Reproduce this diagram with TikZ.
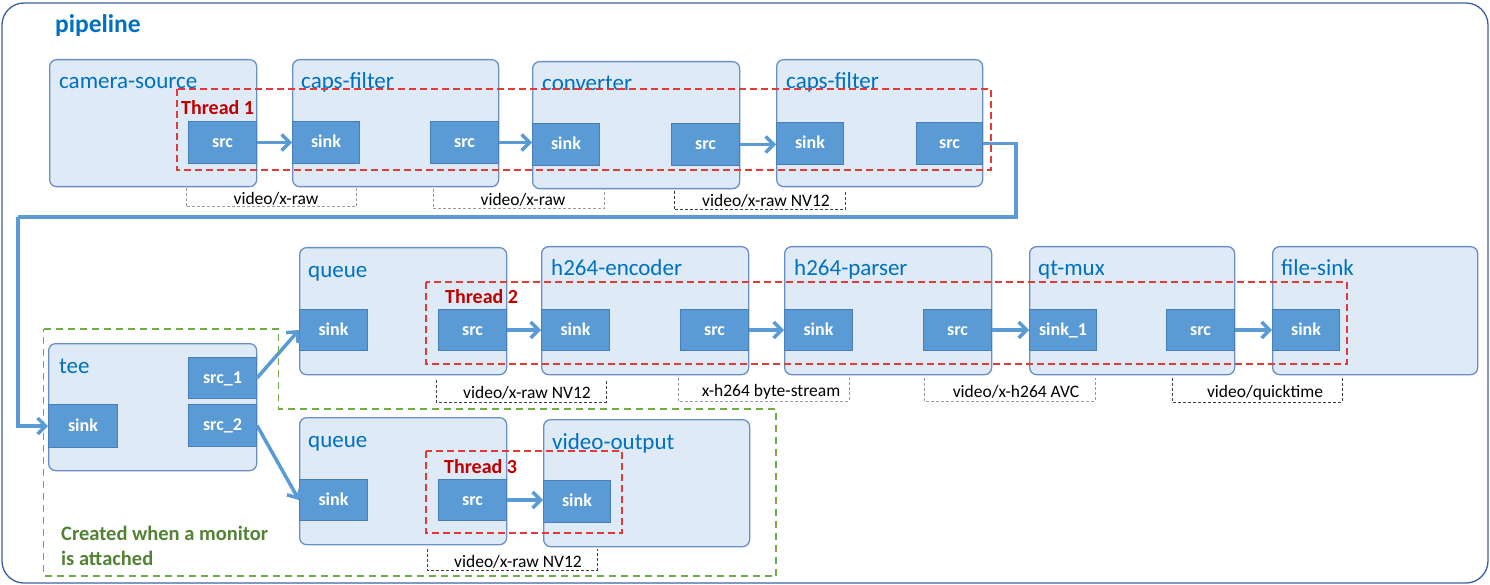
\documentclass[tikz,border=0pt]{standalone}
\usepackage{fontspec}
\setmainfont{Carlito}
\usetikzlibrary{arrows.meta}
\definecolor{elemfill}{HTML}{DEEBF7}
\definecolor{elemdraw}{HTML}{6A8FC7}
\definecolor{padfill}{HTML}{5B9BD5}
\definecolor{paddraw}{HTML}{4A7EBB}
\definecolor{flowcol}{HTML}{5B9BD5}
\definecolor{titlecol}{HTML}{0070C0}
\definecolor{framecol}{HTML}{3A5FA0}
\definecolor{threadcol}{HTML}{E03A3A}
\definecolor{threadtxt}{HTML}{C00000}
\definecolor{greencol}{HTML}{70AD47}
\definecolor{greentxt}{HTML}{548235}
\definecolor{capsgraycol}{HTML}{9A9A9A}
\definecolor{capsdarkcol}{HTML}{404040}
\tikzset{
  elem/.style={draw=elemdraw, fill=elemfill, line width=1.3pt, rounded corners=7pt, anchor=north west, inner sep=0pt},
  pad/.style={draw=paddraw, fill=padfill, line width=1pt, anchor=north west, inner sep=0pt, text height=12pt, text depth=2pt, text=white, font=\fontsize{18}{20}\selectfont\bfseries},
  etitle/.style={anchor=base west, inner sep=0pt, text=titlecol, font=\fontsize{23}{26}\selectfont},
  flow/.style={draw=flowcol, line width=3.5pt, -{Straight Barb[length=8pt,width=16pt]}},
  loopline/.style={draw=flowcol, line width=3.5pt},
  threadbox/.style={draw=threadcol, line width=1.4pt, dash pattern=on 7pt off 4pt},
  threadlbl/.style={anchor=west, inner sep=0pt, text=threadtxt, font=\fontsize{20}{22}\selectfont\bfseries},
  capslbl/.style={inner sep=0pt, font=\fontsize{17.5}{20}\selectfont},
  capsgray/.style={draw=capsgraycol, line width=1pt, dash pattern=on 3pt off 2pt},
  capsdark/.style={draw=capsdarkcol, line width=1pt, dash pattern=on 3pt off 2pt},
  monitorbox/.style={draw=greencol, line width=1.6pt, dash pattern=on 7pt off 5pt},
}
\begin{document}
\begin{tikzpicture}[x=1pt,y=-1pt]
\useasboundingbox (0,0) rectangle (1490,585);
% outer frame
\draw[draw=framecol, line width=1.3pt, rounded corners=22pt] (2,3) rectangle (1488,583);
\node[anchor=base west, inner sep=0pt, text=titlecol, font=\fontsize{25.5}{28}\selectfont\bfseries] (pipe) at (55,33) {pipeline};

% elements
\node[elem, minimum width=207pt, minimum height=127pt] (cam) at (49,59) {};
\node[elem, minimum width=206pt, minimum height=127pt] (caps1) at (292,59) {};
\node[elem, minimum width=207pt, minimum height=127pt] (conv) at (532,61) {};
\node[elem, minimum width=206pt, minimum height=127pt] (caps2) at (776,59) {};
\node[elem, minimum width=208pt, minimum height=127pt] (tee) at (48,343) {};
\node[elem, minimum width=207pt, minimum height=127pt] (queue1) at (299,247) {};
\node[elem, minimum width=207pt, minimum height=128pt] (enc) at (541,246) {};
\node[elem, minimum width=207pt, minimum height=128pt] (parser) at (784,246) {};
\node[elem, minimum width=205pt, minimum height=128pt] (mux) at (1029,246) {};
\node[elem, minimum width=205pt, minimum height=128pt] (fsink) at (1272,246) {};
\node[elem, minimum width=207pt, minimum height=127pt] (queue2) at (299,417) {};
\node[elem, minimum width=206pt, minimum height=127pt] (vout) at (543,419) {};

% titles
\node[etitle] (camT) at (59,89) {camera-source};
\node[etitle] (caps1T) at (301,89) {caps-filter};
\node[etitle] (convT) at (542,91) {converter};
\node[etitle] (caps2T) at (786,89) {caps-filter};
\node[etitle] (teeT) at (59,373) {tee};
\node[etitle] (queue1T) at (308,277) {queue};
\node[etitle] (encT) at (551,276) {h264-encoder};
\node[etitle] (parserT) at (794,276) {h264-parser};
\node[etitle] (muxT) at (1038,276) {qt-mux};
\node[etitle] (fsinkT) at (1281,276) {file-sink};
\node[etitle] (queue2T) at (308,447) {queue};
\node[etitle] (voutT) at (552,449) {video-output};

% pads
\node[pad, minimum width=68pt, minimum height=42pt] (camsrc) at (188,121) {src};
\node[pad, minimum width=67pt, minimum height=42pt] (caps1sink) at (292,121) {sink};
\node[pad, minimum width=68pt, minimum height=42pt] (caps1src) at (430,121) {src};
\node[pad, minimum width=67pt, minimum height=42pt] (convsink) at (532,123) {sink};
\node[pad, minimum width=68pt, minimum height=42pt] (convsrc) at (671,123) {src};
\node[pad, minimum width=67pt, minimum height=42pt] (caps2sink) at (776,122) {sink};
\node[pad, minimum width=66pt, minimum height=42pt] (caps2src) at (916,122) {src};
\node[pad, minimum width=69pt, minimum height=43pt] (teesink) at (48,404) {sink};
\node[pad, minimum width=68pt, minimum height=41pt] (teesrcA) at (188,357) {src\_1};
\node[pad, minimum width=68pt, minimum height=42pt] (teesrcB) at (188,404) {src\_2};
\node[pad, minimum width=68pt, minimum height=41pt] (q1sink) at (299,309) {sink};
\node[pad, minimum width=68pt, minimum height=41pt] (q1src) at (438,309) {src};
\node[pad, minimum width=68pt, minimum height=41pt] (encsink) at (541,309) {sink};
\node[pad, minimum width=68pt, minimum height=41pt] (encsrc) at (680,309) {src};
\node[pad, minimum width=68pt, minimum height=41pt] (parsersink) at (784,309) {sink};
\node[pad, minimum width=68pt, minimum height=41pt] (parsersrc) at (923,309) {src};
\node[pad, minimum width=67pt, minimum height=41pt] (muxsink) at (1029,309) {sink\_1};
\node[pad, minimum width=68pt, minimum height=41pt] (muxsrc) at (1166,309) {src};
\node[pad, minimum width=67pt, minimum height=41pt] (fsinksink) at (1272,309) {sink};
\node[pad, minimum width=68pt, minimum height=41pt] (q2sink) at (299,479) {sink};
\node[pad, minimum width=68pt, minimum height=41pt] (q2src) at (438,479) {src};
\node[pad, minimum width=67pt, minimum height=42pt] (voutsink) at (543,480) {sink};

% flows
\draw[flow] (camsrc.east) -- (camsrc.east -| caps1sink.west);
\draw[flow] (caps1src.east) -- (caps1src.east -| convsink.west);
\draw[flow] (convsrc.east) -- (convsrc.east -| caps2sink.west);
\coordinate (loopA) at (1016,217);
\coordinate (loopB) at (18,217);
\draw[loopline] (caps2src.east) -| (loopA) -- (loopB);
\draw[flow] (loopB) |- (teesink.west);
\draw[flow] (teesrcA.east) -- (q1sink.west);
\draw[flow] (teesrcB.east) -- (q2sink.west);
\draw[flow] (q1src.east) -- (q1src.east -| encsink.west);
\draw[flow] (encsrc.east) -- (encsrc.east -| parsersink.west);
\draw[flow] (parsersrc.east) -- (parsersrc.east -| muxsink.west);
\draw[flow] (muxsrc.east) -- (muxsrc.east -| fsinksink.west);
\draw[flow] (q2src.east) -- (q2src.east -| voutsink.west);

% thread boxes
\draw[threadbox] (177,89) rectangle (991,170);
\node[threadlbl] (t1) at (181,108) {Thread 1};
\draw[threadbox] (426,282) rectangle (1347,364);
\node[threadlbl] (t2) at (445,297) {Thread 2};
\draw[threadbox] (426,451) rectangle (622,533);
\node[threadlbl] (t3) at (444,467) {Thread 3};

% monitor region
\draw[monitorbox] (43.5,329) -- (278.5,329) -- (278.5,409) -- (776,409) -- (776,576) -- (43.5,576) -- cycle;
\node[anchor=north west, inner sep=0pt, align=left, text=greentxt, font=\fontsize{20.5}{25}\selectfont\bfseries] (mon) at (61,526) {Created when a monitor\\is attached};

% caps labels
\draw[capsgray] (186,188) -- (186,207) -- (356,207) -- (356,188);
\node[capslbl] (c1) at (276,199) {video/x-raw};
\draw[capsgray] (433,189) -- (433,209) -- (604,209) -- (604,189);
\node[capslbl] (c2) at (523,200) {video/x-raw};
\draw[capsdark] (674,191) -- (674,210) -- (845,210) -- (845,191);
\node[capslbl] (c3) at (766,201) {video/x-raw NV12};
\draw[capsdark] (436,380) -- (436,402) -- (606,402) -- (606,380);
\node[capslbl] (c4) at (527,393) {video/x-raw NV12};
\draw[capsgray] (678,378) -- (678,401) -- (849,401) -- (849,378);
\node[capslbl] (c5) at (771,392) {x-h264 byte-stream};
\draw[capsgray] (924,378) -- (924,401) -- (1095,401) -- (1095,378);
\node[capslbl] (c6) at (1016,392) {video/x-h264 AVC};
\draw[capsdark] (1172,378) -- (1172,402) -- (1342,402) -- (1342,378);
\node[capslbl] (c7) at (1265,393) {video/quicktime};
\draw[capsdark] (427,549) -- (427,570) -- (597,570) -- (597,549);
\node[capslbl] (c8) at (518,562) {video/x-raw NV12};
\end{tikzpicture}
\end{document}
